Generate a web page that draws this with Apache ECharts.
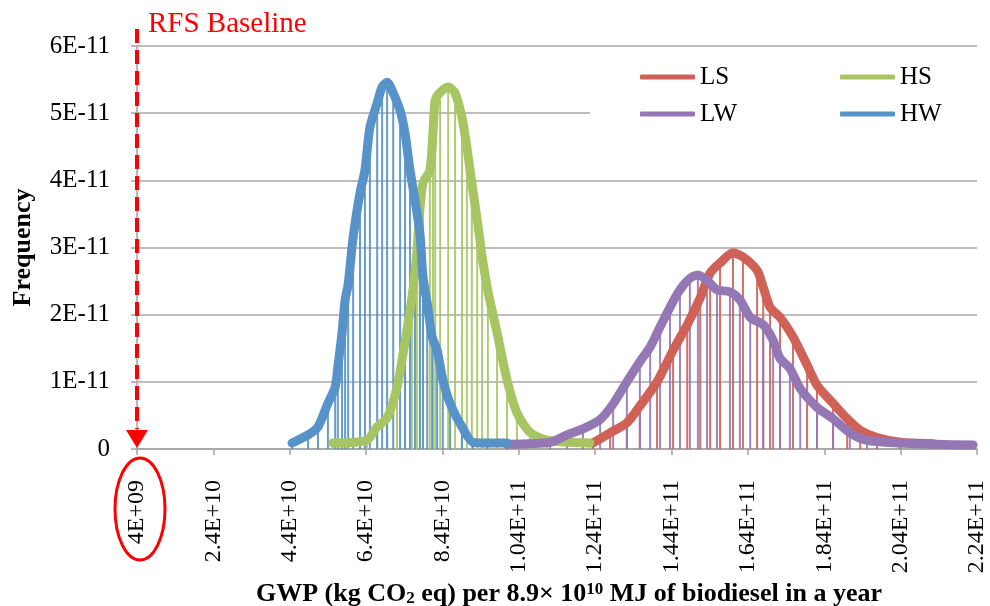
<!DOCTYPE html>
<html>
<head>
<meta charset="utf-8">
<script src="https://cdn.jsdelivr.net/npm/echarts@6/dist/echarts.min.js"></script>
<style>
html,body{margin:0;padding:0;background:#fff;}
#chart{width:990px;height:606px;}
</style>
</head>
<body>
<div id="chart"></div>
<script>
// ---- Data ----
const seriesNames = ['LS', 'HS', 'LW', 'HW'];

const xTickValues = [4e9, 2.4e10, 4.4e10, 6.4e10, 8.4e10, 1.04e11, 1.24e11, 1.44e11, 1.64e11, 1.84e11, 2.04e11, 2.24e11];
const xTickLabels = ['4E+09', '2.4E+10', '4.4E+10', '6.4E+10', '8.4E+10', '1.04E+11', '1.24E+11', '1.44E+11', '1.64E+11', '1.84E+11', '2.04E+11', '2.24E+11'];
const yTickValues = [0, 1e-11, 2e-11, 3e-11, 4e-11, 5e-11, 6e-11];
const yTickLabels = ['0', '1E-11', '2E-11', '3E-11', '4E-11', '5E-11', '6E-11'];

const baselineX = 4e9;

const lsX = [12.34e10, 12.79e10, 13.23e10, 13.57e10, 14.02e10, 14.44e10, 14.81e10, 15.15e10, 15.41e10, 15.67e10, 16.01e10, 16.27e10, 16.64e10, 16.80e10, 16.98e10, 17.24e10, 17.58e10, 17.95e10, 18.21e10, 18.63e10, 19.00e10, 19.34e10, 19.78e10, 20.39e10, 21.25e10];
const lsY = [0.09e-11, 0.24e-11, 0.39e-11, 0.64e-11, 1.00e-11, 1.47e-11, 1.85e-11, 2.25e-11, 2.62e-11, 2.77e-11, 2.92e-11, 2.86e-11, 2.66e-11, 2.41e-11, 2.11e-11, 1.96e-11, 1.67e-11, 1.25e-11, 0.95e-11, 0.68e-11, 0.45e-11, 0.28e-11, 0.17e-11, 0.10e-11, 0.08e-11];

const hsX = [5.53e10, 6.42e10, 6.69e10, 6.95e10, 7.21e10, 7.42e10, 7.60e10, 7.73e10, 7.81e10, 7.89e10, 8.07e10, 8.15e10, 8.21e10, 8.34e10, 8.55e10, 8.73e10, 8.91e10, 9.04e10, 9.17e10, 9.31e10, 9.44e10, 9.59e10, 9.83e10, 10.09e10, 10.35e10, 10.69e10, 11.14e10, 12.26e10];
const hsY = [0.09e-11, 0.13e-11, 0.33e-11, 0.46e-11, 0.92e-11, 1.60e-11, 2.25e-11, 2.92e-11, 3.56e-11, 3.96e-11, 4.15e-11, 4.70e-11, 5.19e-11, 5.31e-11, 5.39e-11, 5.30e-11, 4.94e-11, 4.49e-11, 3.96e-11, 3.41e-11, 2.86e-11, 2.35e-11, 1.73e-11, 1.03e-11, 0.54e-11, 0.25e-11, 0.13e-11, 0.09e-11];

const lwX = [10.09e10, 11.22e10, 11.66e10, 12.08e10, 12.53e10, 12.87e10, 13.23e10, 13.57e10, 13.84e10, 14.10e10, 14.36e10, 14.62e10, 14.88e10, 15.09e10, 15.33e10, 15.59e10, 15.93e10, 16.19e10, 16.46e10, 16.80e10, 17.06e10, 17.24e10, 17.50e10, 17.77e10, 18.21e10, 18.63e10, 19.07e10, 19.52e10, 20.38e10, 21.30e10, 22.30e10];
const lwY = [0.07e-11, 0.10e-11, 0.21e-11, 0.30e-11, 0.44e-11, 0.67e-11, 1.00e-11, 1.30e-11, 1.52e-11, 1.82e-11, 2.11e-11, 2.37e-11, 2.54e-11, 2.59e-11, 2.51e-11, 2.37e-11, 2.34e-11, 2.22e-11, 1.96e-11, 1.85e-11, 1.62e-11, 1.35e-11, 1.20e-11, 0.90e-11, 0.62e-11, 0.45e-11, 0.24e-11, 0.13e-11, 0.09e-11, 0.07e-11, 0.06e-11];

const hwX = [4.46e10, 4.88e10, 5.14e10, 5.40e10, 5.59e10, 5.66e10, 5.77e10, 5.85e10, 5.93e10, 6.06e10, 6.24e10, 6.37e10, 6.50e10, 6.69e10, 6.82e10, 6.95e10, 7.11e10, 7.29e10, 7.42e10, 7.55e10, 7.68e10, 7.81e10, 7.89e10, 8.00e10, 8.13e10, 8.26e10, 8.41e10, 8.60e10, 8.91e10, 9.20e10, 9.57e10, 10.09e10];
const hwY = [0.09e-11, 0.21e-11, 0.33e-11, 0.68e-11, 0.92e-11, 1.22e-11, 1.73e-11, 2.22e-11, 2.45e-11, 3.15e-11, 3.81e-11, 4.15e-11, 4.79e-11, 5.15e-11, 5.39e-11, 5.46e-11, 5.30e-11, 5.04e-11, 4.70e-11, 4.15e-11, 3.71e-11, 3.21e-11, 2.56e-11, 2.17e-11, 1.67e-11, 1.47e-11, 1.03e-11, 0.68e-11, 0.33e-11, 0.10e-11, 0.09e-11, 0.09e-11];

// ---- Styling ----
const colors = {LS: '#cf6157', HS: '#a7c563', LW: '#9378b5', HW: '#5792c9'};
const serif = "'Liberation Serif', 'Times New Roman', serif";

function pairs(xs, ys) { return xs.map((x, i) => [x, ys[i]]); }
const dataByName = {
  LS: pairs(lsX, lsY),
  HS: pairs(hsX, hsY),
  LW: pairs(lwX, lwY),
  HW: pairs(hwX, hwY)
};

function dropSeries(name) {
  const c = colors[name];
  return {
    type: 'custom',
    name: name + ' drop',
    z: 1,
    silent: true,
    clip: true,
    data: dataByName[name],
    encode: {x: 0, y: 1},
    renderItem: function (params, api) {
      const x = api.value(0), y = api.value(1);
      const p0 = api.coord([x, 0]);
      const p1 = api.coord([x, y]);
      return {
        type: 'line',
        shape: {x1: p0[0], y1: p0[1], x2: p1[0], y2: p1[1]},
        style: {stroke: c, lineWidth: 2, opacity: 0.9}
      };
    }
  };
}

function lineSeries(name, z) {
  return {
    type: 'line',
    name: name,
    z: z,
    data: dataByName[name],
    smooth: 0.25,
    symbol: 'none',
    showSymbol: false,
    color: colors[name],
    lineStyle: {color: colors[name], width: 9, cap: 'round', join: 'round'}
  };
}

const legendText = {
  fontFamily: serif, fontSize: 25, color: '#000',
  lineHeight: 22, padding: [14, 0, 0, 0]
};

const chart = echarts.init(document.getElementById('chart'), null, {renderer: 'canvas'});

const option = {
  animation: false,
  backgroundColor: '#ffffff',
  grid: {left: 137, right: 13, top: 46, bottom: 157, containLabel: false, outerBoundsMode: 'none'},
  legend: [
    {
      data: ['LS', 'LW'], orient: 'vertical', left: 590, top: 54,
      padding: [5, 55, 5, 50], itemGap: 1, itemWidth: 55, itemHeight: 5,
      icon: 'roundRect', backgroundColor: '#ffffff', textStyle: legendText,
      selectedMode: false
    },
    {
      data: ['HS', 'HW'], orient: 'vertical', left: 790, top: 54,
      padding: [5, 52, 5, 50], itemGap: 1, itemWidth: 55, itemHeight: 5,
      icon: 'roundRect', backgroundColor: '#ffffff', textStyle: legendText,
      selectedMode: false
    }
  ],
  xAxis: {
    type: 'value',
    min: 4e9,
    max: 2.24e11,
    name: 'GWP (kg CO{sub|2} eq) per 8.9× 10{sup|10} MJ of biodiesel in a year',
    nameLocation: 'middle',
    nameGap: 127,
    nameTextStyle: {
      fontFamily: serif, fontSize: 26, fontWeight: 'bold', color: '#000',
      lineHeight: 26, padding: [0, 0, 0, 24],
      rich: {
        sub: {fontFamily: serif, fontSize: 17, fontWeight: 'bold', color: '#000', verticalAlign: 'bottom', lineHeight: 10},
        sup: {fontFamily: serif, fontSize: 17, fontWeight: 'bold', color: '#000', verticalAlign: 'top', lineHeight: 10}
      }
    },
    splitLine: {show: false},
    axisLine: {show: true, onZero: false, lineStyle: {color: '#a3a3a3', width: 1.5}},
    axisTick: {show: true, length: 6, inside: false, customValues: xTickValues, lineStyle: {color: '#a3a3a3', width: 1.5}},
    axisLabel: {
      customValues: xTickValues,
      rotate: 90,
      margin: 31,
      fontFamily: serif,
      fontSize: 24,
      color: '#000',
      formatter: function (v) {
        let best = 0;
        for (let i = 1; i < xTickValues.length; i++) {
          if (Math.abs(xTickValues[i] - v) < Math.abs(xTickValues[best] - v)) best = i;
        }
        return xTickLabels[best];
      }
    }
  },
  yAxis: {
    type: 'value',
    min: 0,
    max: 6e-11,
    interval: 1e-11,
    name: 'Frequency',
    nameLocation: 'middle',
    nameGap: 101,
    nameRotate: 90,
    nameTextStyle: {fontFamily: serif, fontSize: 26, fontWeight: 'bold', color: '#000'},
    axisLine: {show: true, lineStyle: {color: '#a3a3a3', width: 1.5}},
    axisTick: {show: true, length: 6, inside: false, lineStyle: {color: '#a3a3a3', width: 1.5}},
    splitLine: {show: true, lineStyle: {color: '#a8a8a8', width: 1.6}},
    axisLabel: {
      margin: 27,
      fontFamily: serif,
      fontSize: 25,
      color: '#000',
      formatter: function (v) {
        const i = Math.round(v / 1e-11);
        return yTickLabels[i] !== undefined ? yTickLabels[i] : '';
      }
    }
  },
  series: [
    dropSeries('LS'), dropSeries('HS'), dropSeries('LW'), dropSeries('HW'),
    lineSeries('LS', 3), lineSeries('HS', 4), lineSeries('LW', 5), lineSeries('HW', 6)
  ]
};

chart.setOption(option);

// ---- Annotation: RFS Baseline, positioned through the axis scales ----
const bx = chart.convertToPixel({xAxisIndex: 0}, baselineX);
const y0 = chart.convertToPixel({yAxisIndex: 0}, 0);
const red = '#ff0000';
chart.setOption({
  graphic: [
    {
      type: 'line', z: 50,
      shape: {x1: bx, y1: 29, x2: bx, y2: y0 - 20},
      style: {stroke: red, lineWidth: 4, lineDash: [14, 7]}
    },
    {
      type: 'polygon', z: 50,
      shape: {points: [[bx - 11, y0 - 19], [bx + 11, y0 - 19], [bx, y0 - 1]]},
      style: {fill: red}
    },
    {
      type: 'text', z: 50,
      x: bx + 11, y: 24,
      style: {text: 'RFS Baseline', fill: red, font: "29px 'Liberation Serif', serif", verticalAlign: 'middle', align: 'left'}
    },
    {
      type: 'ellipse', z: 50,
      shape: {cx: bx + 3, cy: y0 + 60, rx: 25, ry: 51},
      style: {fill: null, stroke: red, lineWidth: 3}
    }
  ]
});
</script>
</body>
</html>
